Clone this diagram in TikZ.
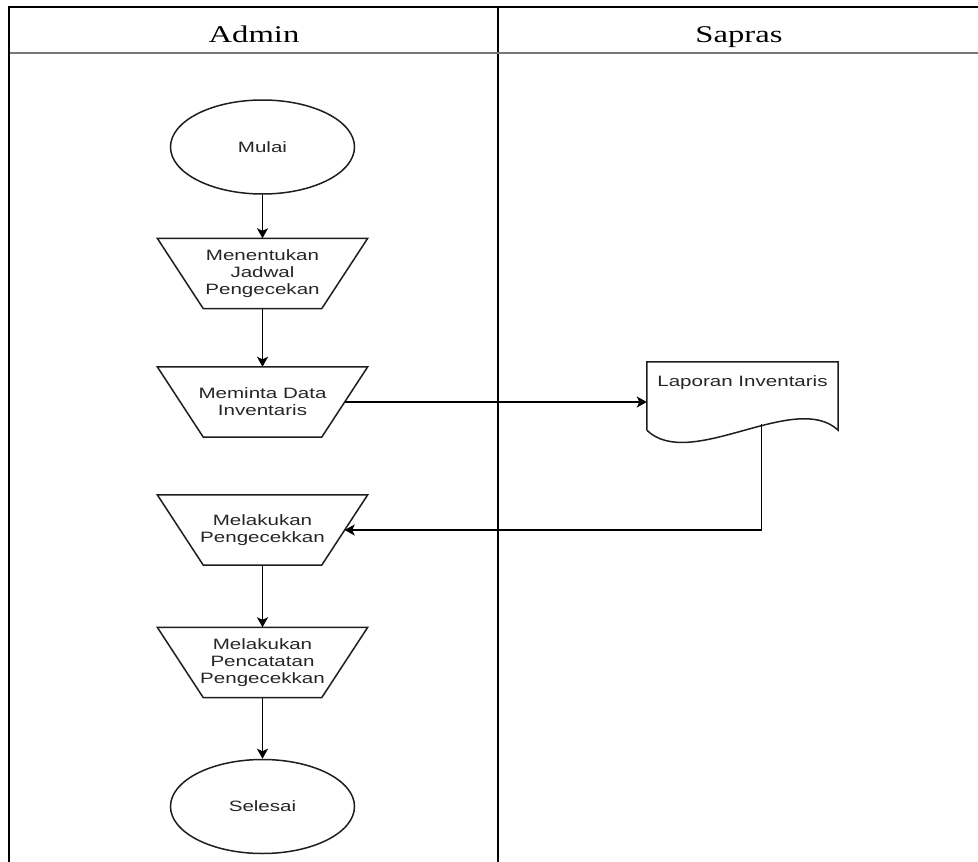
\documentclass[tikz,border=0pt]{standalone}
\usepackage{fontspec}
\setmainfont{Liberation Serif}
\newfontfamily\lblfont[FakeStretch=1.37]{Liberation Sans}
\newfontfamily\hdrfont[FakeStretch=1.36]{Liberation Serif}
\usetikzlibrary{arrows.meta,shapes.geometric,calc}
\definecolor{ink}{HTML}{1E1E1E}
\definecolor{txt}{HTML}{262626}
\definecolor{sepgray}{HTML}{777777}
\begin{document}
\begin{tikzpicture}[x=1pt,y=-1pt,
  lbl/.style={font=\lblfont\fontsize{15}{17}\selectfont, text=txt, align=center, inner sep=0pt},
  term/.style={ellipse, draw=ink, line width=1.5pt, minimum width=184pt, minimum height=94pt, lbl},
  trapbox/.style={minimum width=210pt, minimum height=70pt, lbl},
  trapline/.style={draw=ink, line width=1.5pt, line join=miter},
  flow/.style={draw=black, line width=1.5pt, -{Stealth[length=10pt,width=11pt,inset=2.5pt]}},
  lane/.style={line width=2pt, draw=black},
  hdr/.style={font=\hdrfont\fontsize{24}{28}\selectfont, text=black, anchor=base, inner sep=0pt}
]
\useasboundingbox (0,0) rectangle (978,862);
\fill[white] (0,0) rectangle (978,862);

% swimlanes
\draw[lane] (8,7) -- (980,7);
\draw[lane] (9,6) -- (9,864);
\draw[lane] (498,7) -- (498,864);
\draw[line width=2.6pt, draw=sepgray] (10,53) -- (980,53);
\node[hdr] (hadmin) at (254,42) {Admin};
\node[hdr] (hsapras) at (739,42) {Sapras};

% nodes
\node[term] (mulai) at (262.5,147) {Mulai};
\node[trapbox] (t1) at (262.5,273.5) {Menentukan\\Jadwal\\Pengecekan};
\node[trapbox] (t2) at (262.5,402) {Meminta Data\\Inventaris};
\node[trapbox] (t3) at (262.5,530) {Melakukan\\Pengecekkan};
\node[trapbox] (t4) at (262.5,662.5) {Melakukan\\Pencatatan\\Pengecekkan};
\node[term] (selesai) at (262.5,806.5) {Selesai};

\foreach \n in {t1,t2,t3,t4}{
  \draw[trapline] (\n.north west) -- (\n.north east) -- ([xshift=-46pt]\n.south east) -- ([xshift=46pt]\n.south west) -- cycle;
}

% document
\node[minimum width=191pt, minimum height=68pt, inner sep=0pt] (doc) at (742.5,396) {};
\draw[trapline] (doc.south west) -- (doc.north west) -- (doc.north east) -- (doc.south east)
  .. controls (795,390) and (690,472) .. (doc.south west);
\node[lbl] (doctext) at (742.5,383) {Laporan Inventaris};
\coordinate (docout) at (761.5,424);

% connectors
\draw[flow] (mulai) -- (t1);
\draw[flow] (t1) -- (t2);
\draw[flow] ([xshift=-23pt]t2.east) -- (doc.west |- t2.east);
\draw[flow] (docout) |- ([xshift=-23pt]t3.east);
\draw[flow] (t3) -- (t4);
\draw[flow] (t4) -- (selesai);
\end{tikzpicture}
\end{document}
